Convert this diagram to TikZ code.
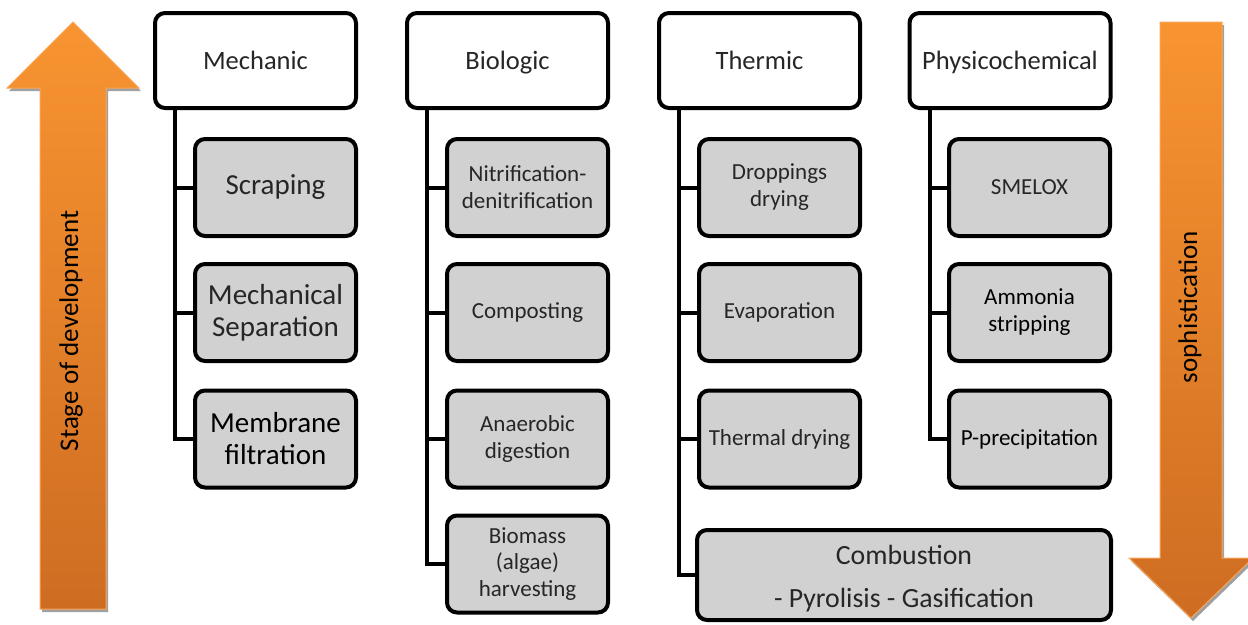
\documentclass[tikz,border=0pt]{standalone}
\usepackage{fontspec}
\setmainfont{Carlito}
\definecolor{txt}{RGB}{38,38,38}
\definecolor{boxgray}{RGB}{209,209,209}
\definecolor{orangetop}{RGB}{248,148,48}
\definecolor{orangebot}{RGB}{206,108,34}
\definecolor{orangeedge}{RGB}{250,165,90}
\definecolor{shadowgray}{RGB}{160,160,160}
\tikzset{
  header/.style={draw=black, line width=4pt, rounded corners=10pt, fill=white,
    minimum width=201pt, minimum height=95pt, inner sep=0pt, text=txt,
    font=\fontsize{26.5}{31}\selectfont, text height=17pt, text depth=0pt},
  item/.style={draw=black, line width=4pt, rounded corners=10pt, fill=boxgray,
    minimum width=161pt, minimum height=97pt, inner sep=0pt, text=txt,
    font=\fontsize{23}{27}\selectfont, align=center},
  bigitem/.style={item, font=\fontsize{29}{32}\selectfont},
  strong/.style={text=black},
  link/.style={draw=black, line width=4pt},
  arrowlabel/.style={rotate=90, text=black, font=\fontsize{27}{30}\selectfont}
}
\begin{document}
\begin{tikzpicture}[x=1pt, y=-1pt]
\useasboundingbox (0,0) rectangle (1248,624);
\clip (0,0) rectangle (1248,624);

% left arrow: stage of development (pointing up)
\fill[shadowgray] (75,25) -- (141,91) -- (108,91) -- (108,612) -- (42,612) -- (42,91) -- (9,91) -- cycle;
\shade[top color=orangetop, bottom color=orangebot, draw=orangeedge, line width=1pt]
  (73,22) -- (139,88) -- (106,88) -- (106,609) -- (40,609) -- (40,88) -- (7,88) -- cycle;
\node[arrowlabel] (stage) at (71,331) {Stage of development};

% right arrow: sophistication (pointing down)
\fill[shadowgray] (1162,25) -- (1224,25) -- (1224,561) -- (1255,561) -- (1193,621) -- (1131,561) -- (1162,561) -- cycle;
\shade[top color=orangetop, bottom color=orangebot, draw=orangeedge, line width=1pt]
  (1160,22) -- (1222,22) -- (1222,558) -- (1253,558) -- (1191,618) -- (1129,558) -- (1160,558) -- cycle;
\node[arrowlabel] (soph) at (1190,307) {sophistication};

% column headers
\node[header] (mech) at (255.5,60.5) {Mechanic};
\node[header] (bio)  at (507.5,60.5) {Biologic};
\node[header] (ther) at (759.5,60.5) {Thermic};
\node[header] (phys) at (1010,60.5) {Physicochemical};

% trunk start points below each header
\coordinate (mt) at ([xshift=-80.5pt]mech.south);
\coordinate (bt) at ([xshift=-80.5pt]bio.south);
\coordinate (tt) at ([xshift=-80.5pt]ther.south);
\coordinate (pt) at ([xshift=-80pt]phys.south);

% mechanic column
\path (275.5,187.5) coordinate (m1c) (275.5,312.5) coordinate (m2c) (275.5,439) coordinate (m3c);
\draw[link] (mt) |- (m1c) (mt) |- (m2c) (mt) |- (m3c);
\node[bigitem] (m1) at (m1c) {Scraping};
\node[bigitem] (m2) at (m2c) {Mechanical\\Separation};
\node[bigitem, strong] (m3) at (m3c) {Membrane\\filtration};

% biologic column
\path (527.5,187.5) coordinate (b1c) (527.5,312.5) coordinate (b2c) (527.5,439) coordinate (b3c) (527.5,564) coordinate (b4c);
\draw[link] (bt) |- (b1c) (bt) |- (b2c) (bt) |- (b3c) (bt) |- (b4c);
\node[item] (b1) at (b1c) {Nitrification-\\denitrification};
\node[item] (b2) at (b2c) {Composting};
\node[item] (b3) at (b3c) {Anaerobic\\digestion};
\node[item, font=\fontsize{23}{26.5}\selectfont] (b4) at (b4c) {Biomass\\(algae)\\harvesting};

% thermic column
\path (779.5,187.5) coordinate (t1c) (779.5,312.5) coordinate (t2c) (779.5,439) coordinate (t3c) (904,575) coordinate (t4c);
\draw[link] (tt) |- (t1c) (tt) |- (t2c) (tt) |- (t3c) (tt) |- (t4c);
\node[item] (t1) at (t1c) {Droppings\\drying};
\node[item] (t2) at (t2c) {Evaporation};
\node[item] (t3) at (t3c) {Thermal drying};
\node[item, minimum width=414pt, minimum height=90pt] (t4) at (t4c) {};
\node[text=txt, align=center, inner sep=0pt, font=\fontsize{27.8}{43}\selectfont]
  (t4text) at ([yshift=-4pt]t4.center) {Combustion\\- Pyrolisis - Gasification};

% physicochemical column
\path (1029.5,187.5) coordinate (p1c) (1029.5,312.5) coordinate (p2c) (1029.5,439) coordinate (p3c);
\draw[link] (pt) |- (p1c) (pt) |- (p2c) (pt) |- (p3c);
\node[item] (p1) at (p1c) {SMELOX};
\node[item, strong] (p2) at (p2c) {Ammonia\\stripping};
\node[item, strong] (p3) at (p3c) {P-precipitation};
\end{tikzpicture}
\end{document}
